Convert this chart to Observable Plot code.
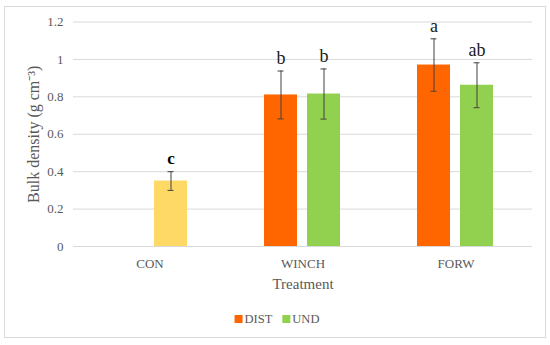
<!DOCTYPE html>
<html>
<head>
<meta charset="utf-8">
<script src="https://cdn.jsdelivr.net/npm/d3@7"></script>
<script src="https://cdn.jsdelivr.net/npm/@observablehq/plot@0.6"></script>
<style>
  html, body { margin: 0; padding: 0; background: #fff; }
  #wrap { position: relative; width: 550px; height: 345px; overflow: hidden; }
  #border { position: absolute; left: 4px; top: 6px; width: 540px; height: 330px; border: 1px solid #d9d9d9; }
  #chart { position: absolute; left: 0; top: 0; }
  #legend { position: absolute; left: 0; top: 309px; }
  #chart g[aria-label="y-axis label"] { font-size: 16px; }
  #chart g[aria-label="fx-axis label"] { font-size: 15px; }
</style>
</head>
<body>
<div id="wrap">
  <div id="border"></div>
  <div id="chart"></div>
  <div id="legend"></div>
</div>
<script>
const treatments = ["CON", "WINCH", "FORW"];
const seriesNames = ["DIST", "UND"];
const distMean = [null, 0.81, 0.97];
const distErr = [null, 0.128, 0.14];
const distLetter = [null, "b", "a"];
const undMean = [0.35, 0.815, 0.862];
const undErr = [0.05, 0.134, 0.12];
const undLetter = ["c", "b", "ab"];
const yTicks = [0, 0.2, 0.4, 0.6, 0.8, 1, 1.2];

const colors = { DIST: "#FF6600", UND: "#92D050", CON: "#FFD966" };
const FONT = "Liberation Serif, serif";

const rows = [];
treatments.forEach((t, i) => {
  if (distMean[i] != null) rows.push({ treatment: t, series: "DIST", value: distMean[i], err: distErr[i], letter: distLetter[i] });
  if (undMean[i] != null) rows.push({ treatment: t, series: "UND", value: undMean[i], err: undErr[i], letter: undLetter[i] });
});
rows.forEach(d => { d.key = d.treatment === "CON" ? "CON" : d.series; });

const hi = d => d.value + d.err;
const lo = d => d.value - d.err;

const chart = Plot.plot({
  width: 550,
  height: 300,
  marginTop: 21.5,
  marginBottom: 54,
  marginLeft: 72,
  marginRight: 18,
  style: { fontFamily: FONT, background: "transparent" },
  fx: { domain: treatments, padding: 0 },
  x: { domain: seriesNames, paddingInner: 0.222, paddingOuter: 0.865, axis: null },
  y: { domain: [0, 1.2] },
  color: { domain: ["DIST", "UND", "CON"], range: [colors.DIST, colors.UND, colors.CON] },
  marks: [
    Plot.gridY(yTicks, { stroke: "#d9d9d9", strokeOpacity: 1 }),
    Plot.axisY(yTicks, {
      tickSize: 0, tickPadding: 10, fontSize: 13, color: "#595959",
      tickFormat: d => String(d),
      label: "Bulk density (g cm⁻³)", labelAnchor: "center", labelOffset: 46, labelArrow: "none"
    }),
    Plot.axisFx({
      anchor: "bottom", tickSize: 0, tickPadding: 12.5, fontSize: 13, color: "#595959",
      label: "Treatment", labelAnchor: "center", labelOffset: 42, labelArrow: "none"
    }),
    Plot.barY(rows, { fx: "treatment", x: "series", y: "value", fill: "key" }),
    Plot.ruleX(rows, { fx: "treatment", x: "series", y1: lo, y2: hi, stroke: "#404040", strokeWidth: 1 }),
    Plot.tickY(rows, { fx: "treatment", x: "series", y: lo, stroke: "#404040", insetLeft: 13.5, insetRight: 13.5 }),
    Plot.tickY(rows, { fx: "treatment", x: "series", y: hi, stroke: "#404040", insetLeft: 13.5, insetRight: 13.5 }),
    Plot.text(rows.filter(d => d.letter && d.treatment !== "CON"), {
      fx: "treatment", x: "series", y: hi, text: "letter", dy: -7, lineAnchor: "bottom",
      fontSize: 18, fill: "#1a1a1a"
    }),
    Plot.text(rows.filter(d => d.letter && d.treatment === "CON"), {
      fx: "treatment", x: "series", y: hi, text: "letter", dy: -8, lineAnchor: "bottom",
      fontSize: 17, fontWeight: "bold", fill: "#000"
    })
  ]
});
document.getElementById("chart").appendChild(chart);

// Legend (SVG, same font as chart)
const colorScale = chart.scale("color");
const lsvg = d3.select("#legend").append("svg")
  .attr("width", 550).attr("height", 20)
  .attr("font-family", FONT).attr("font-size", 12.5);
const g = lsvg.append("g");
let cursor = 0;
seriesNames.forEach((name, i) => {
  const item = g.append("g").attr("transform", `translate(${cursor},0)`);
  item.append("rect").attr("x", 0).attr("y", 6).attr("width", 8).attr("height", 8)
    .attr("fill", colorScale.range[colorScale.domain.indexOf(name)]);
  const t = item.append("text").attr("x", 10).attr("y", 14).attr("fill", "#595959").text(name);
  cursor += 10 + t.node().getComputedTextLength() + 10;
});
const totalW = cursor - 10;
g.attr("transform", `translate(${(550 - totalW) / 2 + 2},0)`);
</script>
</body>
</html>
